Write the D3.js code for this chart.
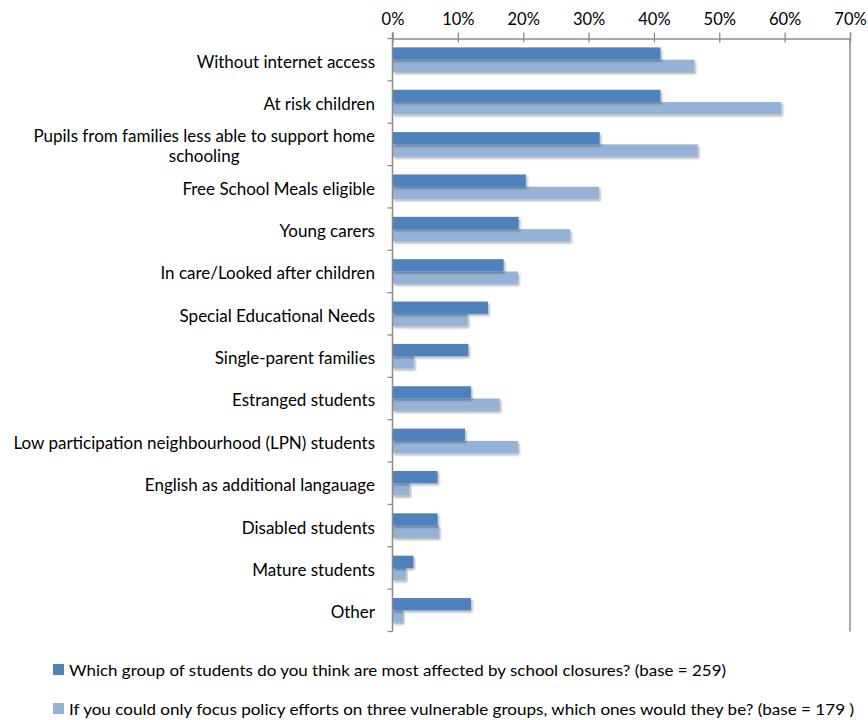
<!DOCTYPE html>
<html>
<head>
<meta charset="utf-8">
<script src="https://cdn.jsdelivr.net/npm/d3@7"></script>
<style>
  html, body { margin: 0; padding: 0; background: #fff; }
  svg { display: block; }
  text { font-family: Lato, "Open Sans", sans-serif; fill: #000; }
</style>
</head>
<body>
<svg id="chart" width="868" height="720"></svg>
<script>
// Categories, top to bottom (\n marks a manual line break)
const categories = [
  "Without internet access",
  "At risk children",
  "Pupils from families less able to support home\nschooling",
  "Free School Meals eligible",
  "Young carers",
  "In care/Looked after children",
  "Special Educational Needs",
  "Single-parent families",
  "Estranged students",
  "Low participation neighbourhood (LPN) students",
  "English as additional langauage",
  "Disabled students",
  "Mature students",
  "Other"
];

// Share of respondents per group (fraction of base)
const mostAffected = [0.41, 0.41, 0.317, 0.204, 0.193, 0.17, 0.146, 0.116, 0.12, 0.111, 0.069, 0.069, 0.032, 0.12];
const policyFocus  = [0.462, 0.595, 0.467, 0.316, 0.272, 0.192, 0.115, 0.033, 0.164, 0.192, 0.026, 0.071, 0.021, 0.016];

const seriesNames = [
  "Which group of students do you think are most affected by school closures? (base = 259)",
  "If you could only focus policy efforts on three vulnerable groups, which ones would they be? (base = 179 )"
];
const seriesColors = ["#4F81BD", "#95B3D7"];
const tickValues = [0, 0.1, 0.2, 0.3, 0.4, 0.5, 0.6, 0.7];

const svg = d3.select("#chart");
const plot = { left: 392.5, right: 850, top: 38.5, bottom: 631.5 };

const x = d3.scaleLinear().domain([0, 0.7]).range([plot.left, plot.right]);
const y = d3.scaleBand().domain(categories).range([plot.top, plot.bottom]);
const groupH = y.bandwidth() * 0.58;
const ySub = d3.scaleBand().domain([0, 1])
  .range([(y.bandwidth() - groupH) / 2, (y.bandwidth() + groupH) / 2]);

// soft drop shadow under bars
const defs = svg.append("defs");
const f = defs.append("filter").attr("id", "shadow")
  .attr("x", "-5%").attr("y", "-30%").attr("width", "115%").attr("height", "180%");
f.append("feDropShadow").attr("dx", 1.5).attr("dy", 2).attr("stdDeviation", 1.2)
  .attr("flood-color", "#000").attr("flood-opacity", 0.3);

const axisColor = "#8c8c8c";

// top value axis with crossing tick marks
const xAxis = svg.append("g")
  .attr("transform", `translate(0,${plot.top})`)
  .call(d3.axisTop(x).tickValues(tickValues).tickFormat(d3.format(".0%")).tickSize(6).tickPadding(8));
xAxis.select(".domain").attr("stroke", axisColor).attr("stroke-width", 1.3);
xAxis.selectAll(".tick line").attr("stroke", axisColor).attr("stroke-width", 1.3).attr("y1", 4);
xAxis.selectAll(".tick text").style("font-size", "16.5px").attr("fill", "#000");

// right frame line
svg.append("line")
  .attr("x1", plot.right).attr("x2", plot.right)
  .attr("y1", plot.top).attr("y2", plot.bottom)
  .attr("stroke", axisColor).attr("stroke-width", 1.5);

// bars
const rows = categories.map((c, i) => ({ c, v: [mostAffected[i], policyFocus[i]] }));
const groups = svg.append("g").selectAll("g").data(rows).join("g")
  .attr("transform", d => `translate(0,${y(d.c)})`);
// lighter series first so the darker one sits on top
[1, 0].forEach(s => {
  groups.append("rect")
    .attr("x", x(0))
    .attr("y", ySub(s))
    .attr("width", d => x(d.v[s]) - x(0))
    .attr("height", ySub.bandwidth())
    .attr("fill", seriesColors[s])
    .attr("filter", "url(#shadow)");
});

// category axis on the left
const yAxisG = svg.append("g");
yAxisG.append("line")
  .attr("x1", plot.left).attr("x2", plot.left)
  .attr("y1", plot.top - 6).attr("y2", plot.bottom)
  .attr("stroke", axisColor).attr("stroke-width", 1.5);
const bounds = categories.map(c => y(c)).concat([plot.bottom]);
yAxisG.selectAll("line.cat").data(bounds).join("line").attr("class", "cat")
  .attr("x1", plot.left - 5).attr("x2", plot.left)
  .attr("y1", d => d).attr("y2", d => d)
  .attr("stroke", axisColor).attr("stroke-width", 1.3);

// category labels: right aligned block, extra lines centred under the first
const labelRight = 375;
const labelSize = "17px";
categories.forEach(c => {
  const lines = c.split("\n");
  const cy = y(c) + y.bandwidth() / 2;
  const lh = 20;
  const t = svg.append("text").style("font-size", labelSize)
    .attr("y", cy - (lines.length - 1) * lh / 2 + 2)
    .attr("dy", "0.35em");
  if (lines.length === 1) {
    t.attr("x", labelRight).attr("text-anchor", "end").text(c);
  } else {
    const probe = svg.append("text").style("font-size", labelSize).text(lines[0]);
    const w = probe.node().getComputedTextLength();
    probe.remove();
    const mid = labelRight - w / 2;
    t.attr("text-anchor", "middle");
    lines.forEach((ln, i) => {
      t.append("tspan").attr("x", mid).attr("dy", i === 0 ? "0.35em" : lh).text(ln);
    });
  }
});

// legend
const legend = svg.append("g");
const legendY = [670, 709];
seriesNames.forEach((name, i) => {
  legend.append("rect")
    .attr("x", 53).attr("y", legendY[i] - 6).attr("width", 11).attr("height", 11)
    .attr("fill", seriesColors[i]);
  legend.append("text")
    .attr("x", 69).attr("y", legendY[i]).attr("dy", "0.35em")
    .style("font-size", "16px")
    .attr("textLength", i === 0 ? 657 : 785)
    .attr("lengthAdjust", "spacingAndGlyphs")
    .text(name);
});
</script>
</body>
</html>
